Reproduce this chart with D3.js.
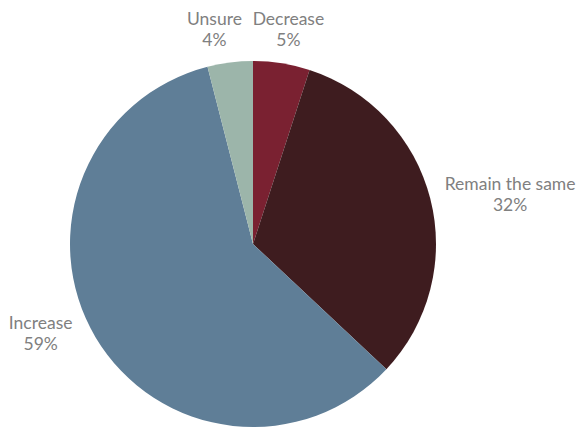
<!DOCTYPE html>
<html>
<head>
<meta charset="utf-8">
<script src="https://cdn.jsdelivr.net/npm/d3@7"></script>
<style>
  html, body { margin: 0; padding: 0; background: #ffffff; }
  svg { display: block; }
</style>
</head>
<body>
<svg id="chart" width="578" height="428"></svg>
<script>
// ---- data ----
const categories = ["Decrease", "Remain the same", "Increase", "Unsure"];
const values = [5, 32, 59, 4];
const valueLabels = ["5%", "32%", "59%", "4%"];
const colors = ["#7a2131", "#3e1c1f", "#5f7e97", "#9cb5aa"];

// ---- layout ----
const W = 578, H = 428;
const cx = 253, cy = 244, radius = 183;
const labelRadius = 220;
// per-label nudges (layout only)
const labelNudge = [[1, 2], [44, 5], [-23, -23], [-11, 3]];

const svg = d3.select("#chart");
const g = svg.append("g").attr("transform", `translate(${cx},${cy})`);

const pie = d3.pie().sort(null).value(d => d.value);
const data = categories.map((c, i) => ({ name: c, value: values[i], label: valueLabels[i], color: colors[i] }));
const arcs = pie(data);

const arc = d3.arc().innerRadius(0).outerRadius(radius);
const labelArc = d3.arc().innerRadius(labelRadius).outerRadius(labelRadius);

g.selectAll("path.slice")
  .data(arcs)
  .join("path")
  .attr("class", "slice")
  .attr("d", arc)
  .attr("fill", d => d.data.color);

const labels = g.selectAll("text.lbl")
  .data(arcs)
  .join("text")
  .attr("class", "lbl")
  .attr("text-anchor", "middle")
  .attr("font-family", "Lato, 'Open Sans', sans-serif")
  .attr("font-size", "17.5px")
  .attr("fill", "#808080")
  .attr("transform", (d, i) => {
    const [x, y] = labelArc.centroid(d);
    return `translate(${x + labelNudge[i][0]},${y + labelNudge[i][1]})`;
  });

labels.append("tspan").attr("x", 0).attr("y", -4).text(d => d.data.name);
labels.append("tspan").attr("x", 0).attr("y", 17).text(d => d.data.label);
</script>
</body>
</html>
